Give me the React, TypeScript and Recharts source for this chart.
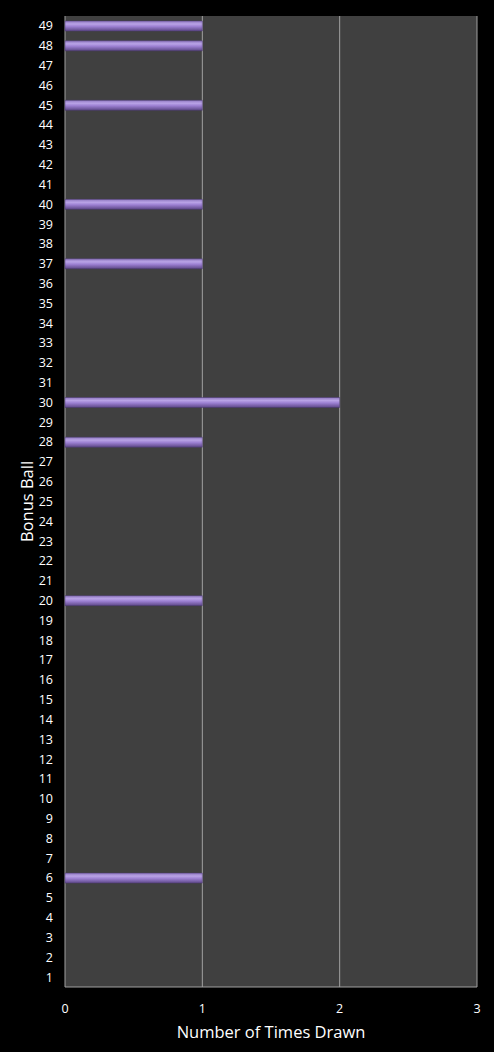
import React from 'react';
import { BarChart, Bar, XAxis, YAxis, CartesianGrid } from 'recharts';

// bonus ball numbers, 1..49
const balls: string[] = [
  '1', '2', '3', '4', '5', '6', '7', '8', '9', '10',
  '11', '12', '13', '14', '15', '16', '17', '18', '19', '20',
  '21', '22', '23', '24', '25', '26', '27', '28', '29', '30',
  '31', '32', '33', '34', '35', '36', '37', '38', '39', '40',
  '41', '42', '43', '44', '45', '46', '47', '48', '49',
];

// times each ball was drawn
const timesDrawn: number[] = [
  0, 0, 0, 0, 0, 1, 0, 0, 0, 0,
  0, 0, 0, 0, 0, 0, 0, 0, 0, 1,
  0, 0, 0, 0, 0, 0, 0, 1, 0, 2,
  0, 0, 0, 0, 0, 0, 1, 0, 0, 1,
  0, 0, 0, 0, 1, 0, 0, 1, 1,
];

const xTicks: number[] = [0, 1, 2, 3];

const data = balls.map((ball, i) => ({ ball, drawn: timesDrawn[i] }));

const font = '"Open Sans", sans-serif';

export default function App() {
  return (
    <div style={{ position: 'absolute', top: 0, left: 0, width: 494, height: 1052, background: '#000', fontFamily: font }}>
      <BarChart
        width={494}
        height={1052}
        data={data}
        layout="vertical"
        margin={{ top: 16, right: 17, left: 22, bottom: 14 }}
        barCategoryGap={0}
      >
        <defs>
          <linearGradient id="barFill" x1="0" y1="0" x2="0" y2="1">
            <stop offset="0%" stopColor="#8f78c0" />
            <stop offset="30%" stopColor="#b9a3e6" />
            <stop offset="55%" stopColor="#9c80d2" />
            <stop offset="100%" stopColor="#5e4888" />
          </linearGradient>
        </defs>
        <CartesianGrid horizontal={false} fill="#404040" fillOpacity={1} stroke="#a0a0a0" strokeWidth={1} />
        <XAxis
          type="number"
          domain={[0, 3]}
          ticks={xTicks}
          height={51}
          axisLine={{ stroke: '#a0a0a0' }}
          tickLine={false}
          tick={{ fill: '#fff', fontSize: 12.5, fontFamily: font }}
          tickMargin={11}
          label={{ value: 'Number of Times Drawn', position: 'insideBottom', offset: 0, fill: '#fff', fontSize: 16.5, fontFamily: font }}
        />
        <YAxis
          type="category"
          dataKey="ball"
          reversed
          width={43}
          interval={0}
          axisLine={false}
          tickLine={false}
          tick={{ fill: '#fff', fontSize: 12.5, fontFamily: font }}
          tickMargin={6}
          label={{ value: 'Bonus Ball', angle: -90, position: 'insideLeft', offset: 5, fill: '#fff', fontSize: 16.5, fontFamily: font, style: { textAnchor: 'middle' } }}
        />
        <Bar dataKey="drawn" barSize={10} fill="url(#barFill)" stroke="#4a3870" strokeWidth={0.5} isAnimationActive={false} />
      </BarChart>
    </div>
  );
}
